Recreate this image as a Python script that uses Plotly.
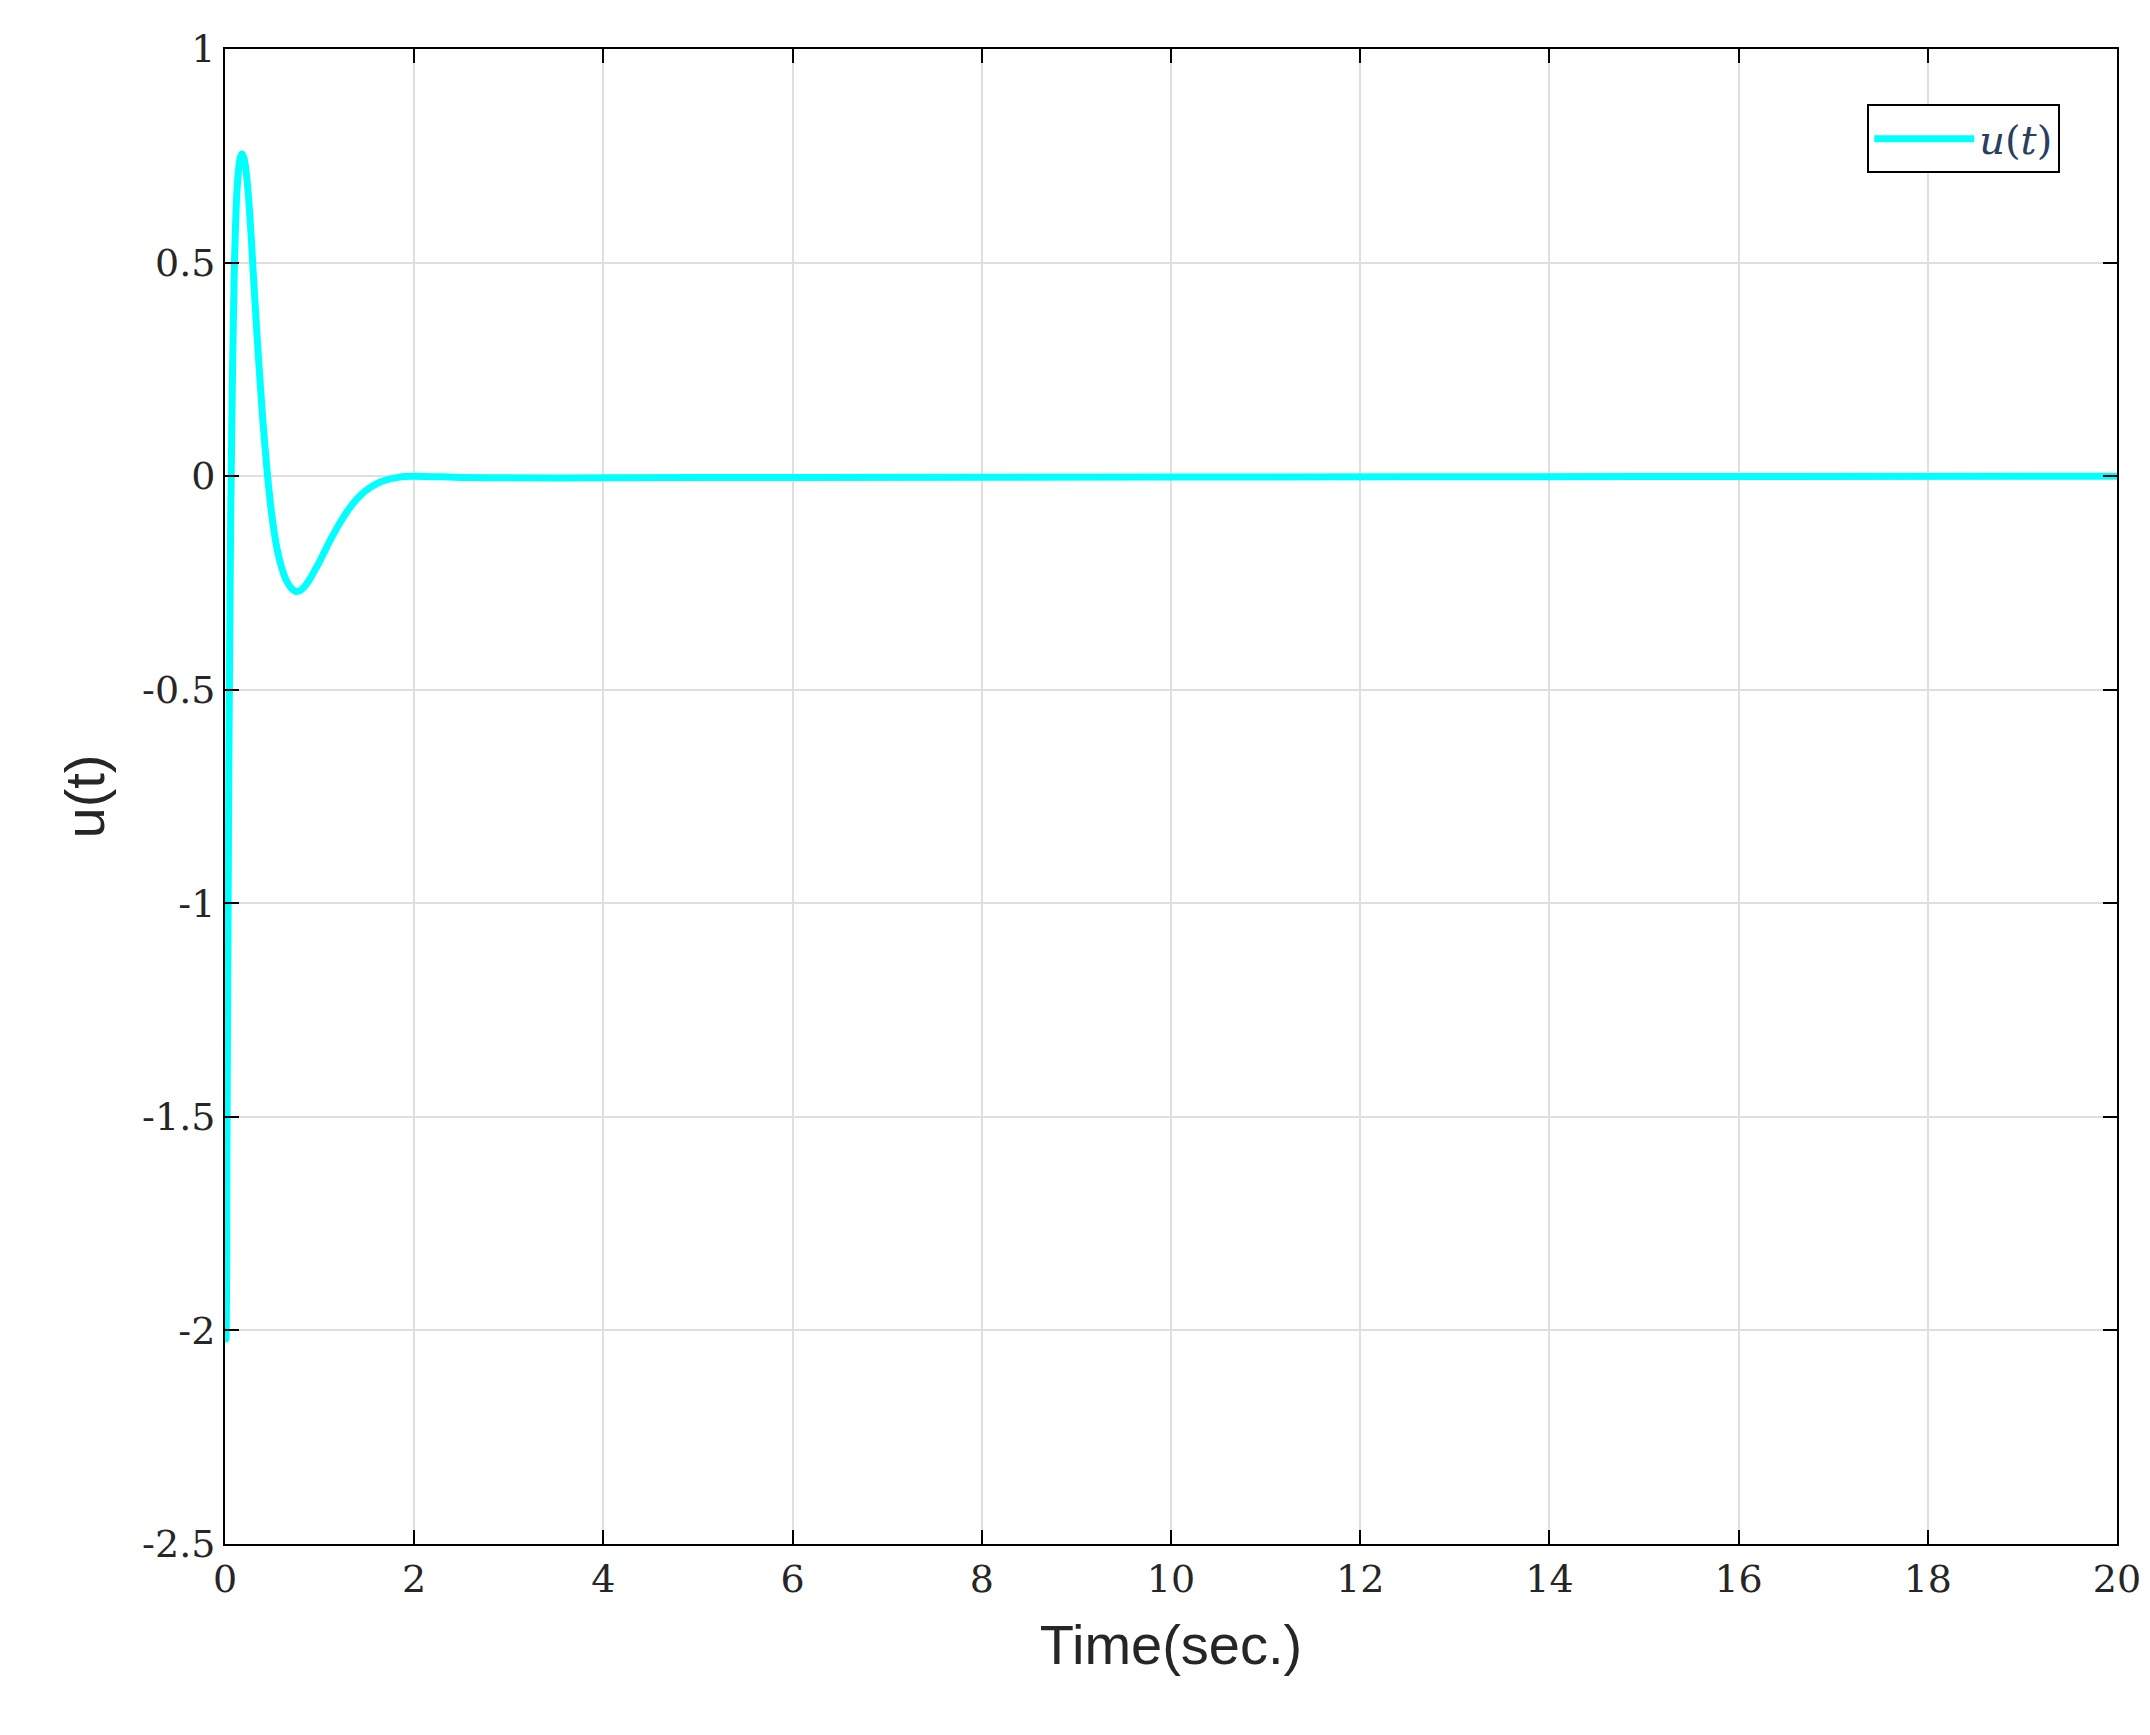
import plotly.graph_objects as go

t = [0, 0.01, 0.02, 0.04, 0.06, 0.08, 0.1, 0.12, 0.14, 0.16, 0.18, 0.2, 0.22, 0.25, 0.28, 0.3, 0.35, 0.4, 0.45, 0.5, 0.55, 0.6, 0.65, 0.7, 0.75, 0.8, 0.85, 0.9, 0.95, 1.0, 1.1, 1.2, 1.3, 1.4, 1.5, 1.6, 1.7, 1.8, 1.9, 2.0, 2.5, 3.0, 4.0, 6.0, 10.0, 15.0, 20.0]
u = [-2.0, -2.02, -1.6, -0.7, -0.1, 0.25, 0.5, 0.64, 0.71, 0.745, 0.755, 0.745, 0.72, 0.65, 0.55, 0.47, 0.29, 0.13, 0.0, -0.1, -0.17, -0.215, -0.245, -0.262, -0.27, -0.267, -0.256, -0.24, -0.22, -0.2, -0.155, -0.115, -0.08, -0.052, -0.032, -0.018, -0.009, -0.004, -0.001, 0.0, -0.003, -0.004, -0.004, -0.003, -0.002, -0.001, 0.0]

xt = list(range(0, 21, 2))
yt = [-2.5, -2, -1.5, -1, -0.5, 0, 0.5, 1]
ylab = ["-2.5", "-2", "-1.5", "-1", "-0.5", "0", "0.5", "1"]

fig = go.Figure(go.Scatter(x=t, y=u, mode="lines", name="<i>u</i>(<i>t</i>)", showlegend=True,
                           line=dict(color="#00FFFF", width=7, shape="spline", smoothing=0.6)))

ax = dict(showline=True, linecolor="black", linewidth=2, mirror="ticks", ticks="inside",
          ticklen=14, tickwidth=1.5, tickcolor="black", showgrid=True, gridcolor="#DFDFDF",
          gridwidth=2, zeroline=False,
          tickfont=dict(family="DejaVu Serif, Liberation Serif", size=38, color="#262626"))
fig.update_xaxes(**ax, range=[0, 20], tickvals=xt, ticktext=[str(v) for v in xt],
                 title=dict(text="Time(sec.)", standoff=25,
                            font=dict(family="Liberation Sans, Arial", size=56, color="#262626")))
fig.update_yaxes(**ax, range=[-2.5, 1], tickvals=yt, ticktext=ylab,
                 title=dict(text="u(t)", standoff=20,
                            font=dict(family="Liberation Sans, Arial", size=56, color="#262626")))
fig.update_layout(width=2150, height=1735, plot_bgcolor="white", paper_bgcolor="white",
                  margin=dict(l=217, r=41, t=41, b=199),
                  legend=dict(x=0.97, y=0.963, xanchor="right", yanchor="top",
                              bordercolor="black", borderwidth=2, bgcolor="white",
                              font=dict(family="DejaVu Serif, Liberation Serif", size=40),
                              itemwidth=100))
fig.write_html("out.html")
